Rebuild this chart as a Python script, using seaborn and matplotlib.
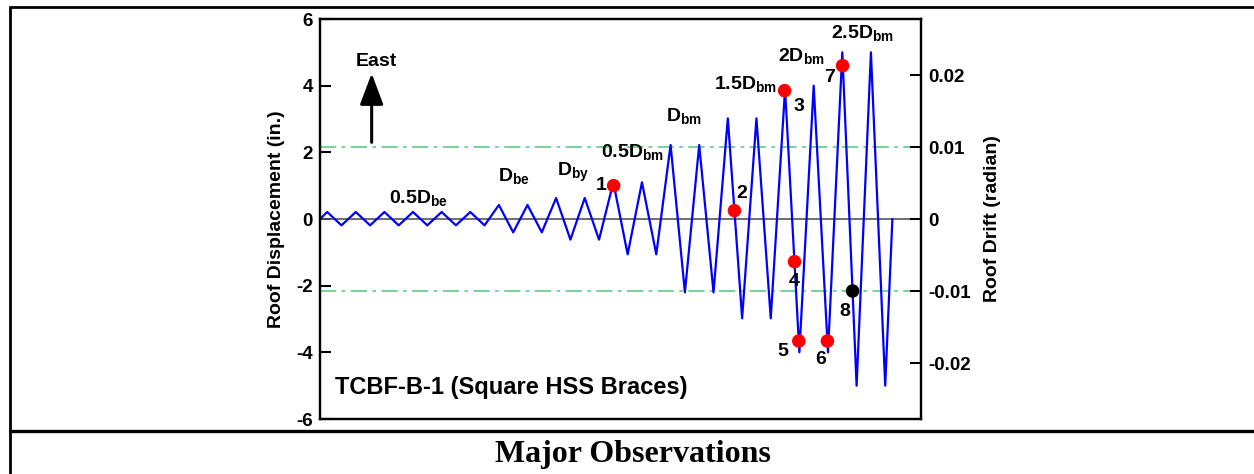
import matplotlib
matplotlib.use("Agg")
import matplotlib.pyplot as plt
from matplotlib.lines import Line2D
import seaborn as sns
import pandas as pd

# ---------------- data ----------------
# loading step (half-cycle index) and roof displacement (in.) at each reversal
steps = [0.0,
         0.5, 1.5, 2.5, 3.5, 4.5, 5.5, 6.5, 7.5, 8.5, 9.5, 10.5, 11.5,
         12.5, 13.5, 14.5, 15.5,
         16.5, 17.5, 18.5, 19.5,
         20.5, 21.5, 22.5, 23.5,
         24.5, 25.5, 26.5, 27.5,
         28.5, 29.5, 30.5, 31.5,
         32.5, 33.5, 34.5, 35.5,
         36.5, 37.5, 38.5, 39.5,
         40.0]
roof_disp = [0.0,
             0.21, -0.19, 0.21, -0.19, 0.21, -0.19, 0.21, -0.19, 0.21, -0.19, 0.21, -0.19,
             0.42, -0.40, 0.42, -0.40,
             0.63, -0.62, 0.63, -0.62,
             1.10, -1.06, 1.10, -1.06,
             2.22, -2.20, 2.22, -2.20,
             3.02, -2.98, 3.02, -2.98,
             3.90, -4.00, 4.00, -4.00,
             5.00, -5.00, 5.00, -5.00,
             0.0]

obs_steps = [20.52, 28.96, 32.47, 33.16, 33.46, 35.46, 36.52, 37.22]
obs_disp = [1.00, 0.25, 3.85, -1.28, -3.66, -3.66, 4.60, -2.16]
obs_labels = ["1", "2", "3", "4", "5", "6", "7", "8"]
obs_kind = ["red", "red", "red", "red", "red", "red", "red", "black"]

level_labels = [r"$\mathbf{0.5D_{be}}$", r"$\mathbf{D_{be}}$", r"$\mathbf{D_{by}}$",
                r"$\mathbf{0.5D_{bm}}$", r"$\mathbf{D_{bm}}$", r"$\mathbf{1.5D_{bm}}$",
                r"$\mathbf{2D_{bm}}$", r"$\mathbf{2.5D_{bm}}$"]

disp_ticks = [-6, -4, -2, 0, 2, 4, 6]
drift_ticks = [-0.02, -0.01, 0, 0.01, 0.02]
drift_tick_labels = ["-0.02", "-0.01", "0", "0.01", "0.02"]
drift_limit = 0.01
height_in = 216.0

# ---------------- style ----------------
sns.set_theme(style="white")
plt.rcParams["font.family"] = ["Liberation Sans", "DejaVu Sans"]
plt.rcParams["font.weight"] = "bold"
plt.rcParams["axes.unicode_minus"] = False
plt.rcParams["mathtext.fontset"] = "custom"
plt.rcParams["mathtext.bf"] = "Liberation Sans:bold"
plt.rcParams["mathtext.rm"] = "Liberation Sans:bold"
plt.rcParams["mathtext.it"] = "Liberation Sans:bold"
plt.rcParams["text.color"] = "black"
plt.rcParams["axes.labelcolor"] = "black"
plt.rcParams["xtick.color"] = "black"
plt.rcParams["ytick.color"] = "black"
plt.rcParams["axes.edgecolor"] = "black"

fig = plt.figure(figsize=(12.54, 4.74), dpi=100)
fig.patch.set_facecolor("white")
ax = fig.add_axes([320 / 1254, 1 - 419 / 474, 601 / 1254, 400 / 474])
ax.set_facecolor("white")

df = pd.DataFrame({"step": steps, "disp": roof_disp})
obs = pd.DataFrame({"step": obs_steps, "disp": obs_disp, "kind": obs_kind})

# reference lines
ax.axhline(0, color="#555555", lw=1.2, zorder=1)
for s in (-1, 1):
    ax.axhline(s * drift_limit * height_in, color="#6fcf8c", lw=1.3,
               ls=(0, (9, 3, 2, 3)), zorder=1)

sns.lineplot(data=df, x="step", y="disp", sort=False, estimator=None,
             color="#0000ff", lw=1.6, ax=ax, zorder=3)
sns.scatterplot(data=obs, x="step", y="disp", hue="kind",
                palette={"red": "#ff0000", "black": "#000000"},
                s=95, edgecolor="none", linewidth=0, legend=False, ax=ax, zorder=5)

ax.set_xlim(0, 42)
ax.set_ylim(-6, 6)
ax.set_xticks([])
ax.set_yticks(disp_ticks)
ax.set_yticklabels([str(t) for t in disp_ticks])
ax.set_xlabel("")
ax.set_ylabel("Roof Displacement (in.)", fontsize=14, fontweight="bold",
              color="black", labelpad=8)
ax.tick_params(axis="y", direction="in", length=8, width=1.5, labelsize=13.5,
               pad=5, left=True, right=False, colors="black")
for lab in ax.get_yticklabels():
    lab.set_fontweight("bold")
for sp in ax.spines.values():
    sp.set_color("black")
    sp.set_linewidth(1.6)

ax2 = ax.twinx()
ax2.set_ylim(-6 / height_in, 6 / height_in)
ax2.set_yticks(drift_ticks)
ax2.set_yticklabels(drift_tick_labels)
ax2.set_ylabel("Roof Drift (radian)", fontsize=14, fontweight="bold",
               color="black", labelpad=10)
ax2.tick_params(axis="y", direction="in", length=8, width=1.5, labelsize=13.5,
                pad=5, colors="black")
for lab in ax2.get_yticklabels():
    lab.set_fontweight("bold")
for sp in ax2.spines.values():
    sp.set_color("black")
    sp.set_linewidth(1.6)
ax2.grid(False)
ax.grid(False)

# level annotations
level_pos = [(6.87, 0.62), (13.57, 1.28), (17.66, 1.41), (21.82, 2.0),
             (25.45, 3.08), (29.72, 4.04), (33.67, 4.89), (37.94, 5.58)]
for txt, (x, y) in zip(level_labels, level_pos):
    ax.text(x, y, txt, fontsize=14, color="black", ha="center", va="center", zorder=6)

# observation numbers
num_pos = [(19.65, 1.0), (29.49, 0.77), (33.5, 3.37), (33.15, -1.88),
           (32.36, -3.98), (35.01, -4.21), (35.62, 4.25), (36.67, -2.76)]
for txt, (x, y) in zip(obs_labels, num_pos):
    ax.text(x, y, txt, fontsize=14, fontweight="bold", color="black",
            ha="center", va="center", zorder=6)

# direction arrow
ax.annotate("", xy=(3.61, 4.37), xytext=(3.61, 2.3),
            arrowprops=dict(arrowstyle="-|>,head_length=1.6,head_width=0.6",
                            color="black", lw=2.2, shrinkA=0, shrinkB=0))
ax.text(3.92, 4.71, "East", fontsize=14, fontweight="bold", color="black",
        ha="center", va="center")

ax.text(1.05, -5.26, "TCBF-B-1 (Square HSS Braces)", fontsize=17, fontweight="bold",
        color="black", ha="left", va="baseline")

# table frame
lw_frame = 2.0
fig.add_artist(Line2D([9.5 / 1254, 9.5 / 1254], [0, 1 - 7 / 474], color="black",
                      lw=lw_frame, transform=fig.transFigure))
fig.add_artist(Line2D([9.5 / 1254, 1], [1 - 7 / 474, 1 - 7 / 474], color="black",
                      lw=lw_frame, transform=fig.transFigure))
fig.add_artist(Line2D([9.5 / 1254, 1], [1 - 431 / 474, 1 - 431 / 474], color="black",
                      lw=2.4, transform=fig.transFigure))

fig.text(632.5 / 1254, 1 - 461.7 / 474, "Major Observations",
         family=["Liberation Serif", "DejaVu Serif"], fontweight="bold", fontsize=23,
         color="black", ha="center", va="baseline")

fig.savefig("out.png", dpi=100, facecolor="white")
